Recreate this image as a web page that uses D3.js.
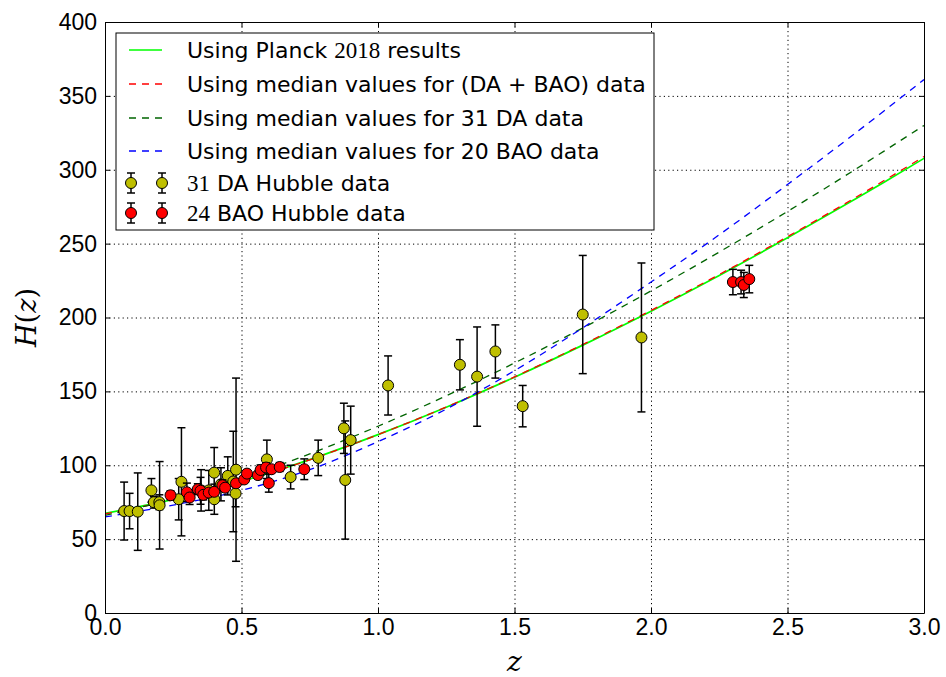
<!DOCTYPE html>
<html lang="en">
<head>
<meta charset="UTF-8">
<title>H(z) vs z</title>
<style>
  body { margin: 0; background: #fff; }
  svg { display: block; font-family: "DejaVu Sans", sans-serif; }
  .tick text { font-size: 23px; fill: #000; }
  .domain { stroke: #000; stroke-width: 1; }
  .grid line { stroke: #000; stroke-width: 1; stroke-dasharray: 1.2,3.2; }
  .grid .domain { display: none; }
  .errbar { stroke: #000; stroke-width: 1.5; fill: none; }
</style>
</head>
<body>
<script src="https://d3js.org/d3.v7.min.js"></script>
<script>
// 31 DA (cosmic chronometer) points
const daZ   = [0.07, 0.09, 0.12, 0.17, 0.179, 0.199, 0.2, 0.27, 0.28, 0.352, 0.3802, 0.4, 0.4004, 0.4247, 0.4497, 0.47, 0.4783, 0.48, 0.593, 0.68, 0.781, 0.875, 0.88, 0.9, 1.037, 1.3, 1.363, 1.43, 1.53, 1.75, 1.965];
const daH   = [69, 69, 68.6, 83, 75, 75, 72.9, 77, 88.8, 83, 83, 95, 77, 87.1, 92.8, 89, 80.9, 97, 104, 92, 105, 125, 90, 117, 154, 168, 160, 177, 140, 202, 186.5];
const daErr = [19.6, 12, 26.2, 8, 4, 5, 29.6, 14, 36.6, 14, 13.5, 17, 10.2, 11.2, 12.9, 34, 9, 62, 13, 8, 12, 17, 40, 23, 20, 17, 33.6, 18, 14, 40, 50.4];

// 24 BAO points
const baoZ   = [0.24, 0.30, 0.31, 0.34, 0.35, 0.36, 0.38, 0.40, 0.43, 0.44, 0.48, 0.51, 0.52, 0.56, 0.57, 0.59, 0.60, 0.61, 0.64, 0.73, 2.30, 2.33, 2.34, 2.36];
const baoH   = [79.69, 81.7, 78.18, 83.8, 82.7, 79.94, 81.5, 82.04, 86.45, 84.81, 87.79, 90.4, 94.35, 93.34, 96.8, 98.48, 87.9, 97.3, 98.82, 97.3, 224, 224, 222, 226];
const baoErr = [2.99, 6.22, 4.74, 3.66, 9.1, 3.38, 1.9, 2.03, 3.68, 1.83, 2.03, 1.9, 2.64, 2.3, 3.4, 3.18, 6.1, 2.1, 2.99, 7.0, 8.6, 8, 8.5, 9.3];

// model curves
const curveZ     = [0, 0.25, 0.5, 0.75, 1.0, 1.25, 1.5, 1.75, 2.0, 2.25, 2.5, 2.75, 3.0];
const planckH    = [67.4, 76.9, 89.1, 103.8, 120.7, 139.3, 159.6, 181.3, 204.3, 228.5, 253.9, 280.3, 307.7];
const combinedH  = [67.0, 76.6, 88.9, 103.7, 120.7, 139.4, 159.8, 181.7, 204.8, 229.1, 254.7, 281.3, 308.9];
const daMedianH  = [66.0, 77.1, 91.1, 107.7, 126.4, 147.0, 169.2, 192.9, 218.0, 244.3, 271.8, 300.4, 330.0];
const baoMedianH = [65.0, 73.0, 83.0, 97.0, 116.0, 138.0, 164.0, 193.0, 224.0, 256.0, 290.0, 325.0, 361.0];

const xTicks = [0, 0.5, 1.0, 1.5, 2.0, 2.5, 3.0];
const yTicks = [0, 50, 100, 150, 200, 250, 300, 350, 400];

const W = 946, H = 677;
const m = {left: 105, right: 22, top: 22, bottom: 64};
const w = W - m.left - m.right, h = H - m.top - m.bottom;

const x = d3.scaleLinear().domain([0, 3]).range([0, w]);
const y = d3.scaleLinear().domain([0, 400]).range([h, 0]);

const svg = d3.select("body").append("svg").attr("width", W).attr("height", H);
const g = svg.append("g").attr("transform", `translate(${m.left},${m.top})`);

// grid
g.append("g").attr("class", "grid")
  .attr("transform", `translate(0,${h})`)
  .call(d3.axisBottom(x).tickValues(xTicks).tickSize(-h).tickFormat(""));
g.append("g").attr("class", "grid")
  .call(d3.axisLeft(y).tickValues(yTicks).tickSize(-w).tickFormat(""));

// curves
const line = d3.line().x(d => x(d[0])).y(d => y(d[1])).curve(d3.curveCatmullRom);
const curves = [
  {vals: planckH, color: "#00ff00", dash: null, width: 1.7},
  {vals: combinedH, color: "#ff0000", dash: "7,6", width: 1.3},
  {vals: daMedianH, color: "#006400", dash: "7,6", width: 1.3},
  {vals: baoMedianH, color: "#0000ff", dash: "7,6", width: 1.3}
];
svg.append("defs").append("clipPath").attr("id", "clip")
  .append("rect").attr("width", w).attr("height", h);
curves.forEach(c => {
  g.append("path")
    .attr("clip-path", "url(#clip)")
    .attr("d", line(curveZ.map((z, i) => [z, c.vals[i]])))
    .attr("fill", "none")
    .attr("stroke", c.color)
    .attr("stroke-width", c.width)
    .attr("stroke-dasharray", c.dash);
});

// error bars + markers
function drawSeries(zs, hs, es, fill) {
  const pts = zs.map((z, i) => ({z, h: hs[i], e: es[i]}));
  const bars = g.append("g").attr("class", "errbar");
  pts.forEach(p => {
    const cx = x(p.z), y1 = y(p.h + p.e), y2 = y(p.h - p.e);
    bars.append("line").attr("x1", cx).attr("x2", cx).attr("y1", y1).attr("y2", y2);
    bars.append("line").attr("x1", cx - 4).attr("x2", cx + 4).attr("y1", y1).attr("y2", y1);
    bars.append("line").attr("x1", cx - 4).attr("x2", cx + 4).attr("y1", y2).attr("y2", y2);
  });
  g.append("g").selectAll("circle").data(pts).join("circle")
    .attr("cx", d => x(d.z)).attr("cy", d => y(d.h)).attr("r", 5.5)
    .attr("fill", fill).attr("stroke", "#000").attr("stroke-width", 1);
}
drawSeries(daZ, daH, daErr, "#bfbf00");
drawSeries(baoZ, baoH, baoErr, "#ff0000");

// axes, ticks inward on all sides
g.append("g").attr("transform", `translate(0,${h})`)
  .call(d3.axisBottom(x).tickValues(xTicks).tickSizeInner(-5).tickSizeOuter(0).tickPadding(6).tickFormat(d3.format(".1f")));
g.append("g")
  .call(d3.axisLeft(y).tickValues(yTicks).tickSizeInner(-5).tickSizeOuter(0).tickPadding(8).tickFormat(d3.format("d")));
g.append("g")
  .call(d3.axisTop(x).tickValues(xTicks).tickSizeInner(-5).tickSizeOuter(0).tickFormat(""));
g.append("g").attr("transform", `translate(${w},0)`)
  .call(d3.axisRight(y).tickValues(yTicks).tickSizeInner(-5).tickSizeOuter(0).tickFormat(""));
g.selectAll(".tick line").attr("stroke", "#000");

// axis labels
svg.append("text")
  .attr("x", m.left + w / 2).attr("y", 671)
  .attr("text-anchor", "middle")
  .style("font-family", "'DejaVu Serif', serif").style("font-style", "italic").style("font-size", "28px")
  .text("z");
const yl = svg.append("text")
  .attr("transform", `translate(36,${m.top + h / 2}) rotate(-90)`)
  .attr("text-anchor", "middle")
  .style("font-family", "'DejaVu Serif', serif").style("font-size", "27px");
yl.append("tspan").style("font-style", "italic").text("H");
yl.append("tspan").text("(");
yl.append("tspan").style("font-style", "italic").text("z");
yl.append("tspan").text(")");

// legend
const lg = svg.append("g").attr("transform", "translate(116,33)");
lg.append("rect").attr("width", 538).attr("height", 197)
  .attr("fill", "#fff").attr("stroke", "#000").attr("stroke-width", 1);
const rowsY = [17, 51, 85, 118, 150, 180];
const serif = "'Liberation Serif', serif";
function legendText(row, parts) {
  const t = lg.append("text").attr("x", 71).attr("y", rowsY[row]).attr("dy", "0.35em")
    .style("font-size", "22px");
  parts.forEach(p => {
    const s = t.append("tspan").text(p[0]);
    if (p[1]) s.style("font-family", serif).style("font-size", "23px");
  });
}
curves.forEach((c, i) => {
  lg.append("line").attr("x1", 13).attr("x2", 46).attr("y1", rowsY[i]).attr("y2", rowsY[i])
    .attr("stroke", c.color).attr("stroke-width", c.width).attr("stroke-dasharray", c.dash);
});
legendText(0, [["Using Planck "], ["2018", true], [" results"]]);
legendText(1, [["Using median values for (DA + BAO) data"]]);
legendText(2, [["Using median values for 31 DA data"]]);
legendText(3, [["Using median values for 20 BAO data"]]);
[["#bfbf00", 4], ["#ff0000", 5]].forEach(([fill, row]) => {
  [15, 46].forEach(cx => {
    const cy = rowsY[row];
    lg.append("line").attr("class", "errbar").attr("x1", cx).attr("x2", cx).attr("y1", cy - 10).attr("y2", cy + 10);
    lg.append("line").attr("class", "errbar").attr("x1", cx - 4).attr("x2", cx + 4).attr("y1", cy - 10).attr("y2", cy - 10);
    lg.append("line").attr("class", "errbar").attr("x1", cx - 4).attr("x2", cx + 4).attr("y1", cy + 10).attr("y2", cy + 10);
    lg.append("circle").attr("cx", cx).attr("cy", cy).attr("r", 5.5)
      .attr("fill", fill).attr("stroke", "#000");
  });
});
legendText(4, [["31", true], [" DA Hubble data"]]);
legendText(5, [["24", true], [" BAO Hubble data"]]);
</script>
</body>
</html>
